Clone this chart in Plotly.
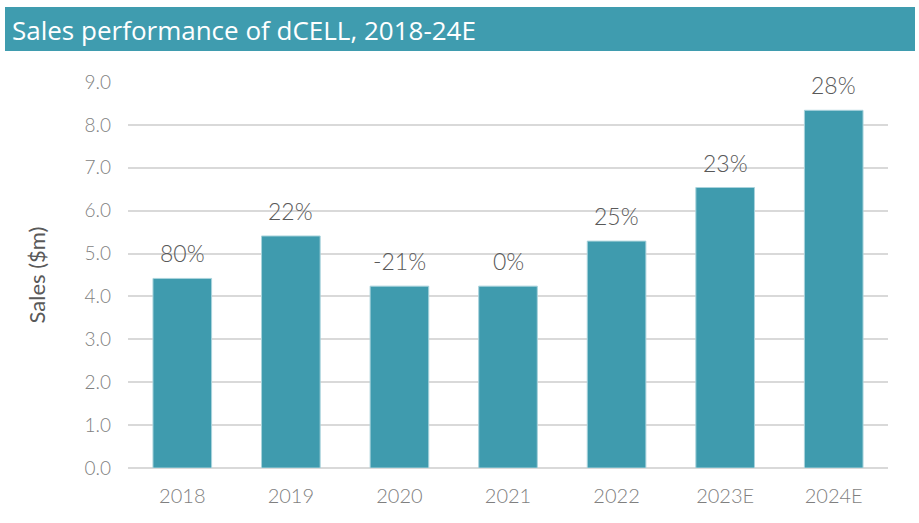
import plotly.graph_objects as go

years = ["2018", "2019", "2020", "2021", "2022", "2023E", "2024E"]
sales = [4.42, 5.41, 4.24, 4.24, 5.29, 6.54, 8.34]
growth = ["80%", "22%", "-21%", "0%", "25%", "23%", "28%"]
y_ticks = [0, 1, 2, 3, 4, 5, 6, 7, 8, 9]
y_tick_labels = [f"{v:.1f}" for v in y_ticks]

TEAL = "#3F9BAE"
W, H = 919, 523
ml, mr, mt, mb = 128, 31, 82, 55
pw, ph = W - ml - mr, H - mt - mb

def px_x(x):
    return (x - ml) / pw

def px_y(y):
    return (H - mb - y) / ph

fig = go.Figure()
fig.add_trace(go.Bar(
    x=years, y=sales,
    marker=dict(color=TEAL, line=dict(color="#a9d3dc", width=1)),
    width=0.54,
    hoverinfo="skip",
))

for i, (v, g) in enumerate(zip(sales, growth)):
    fig.add_annotation(x=i, y=v, text=g, showarrow=False, yanchor="bottom",
                       yshift=9, font=dict(family="Lato", size=23, color="#595959", weight=300))

# title bar
fig.add_shape(type="rect", xref="paper", yref="paper",
              x0=px_x(5), x1=px_x(915), y0=px_y(51), y1=px_y(7),
              fillcolor="#3F9CAF", line=dict(width=0), layer="below")
fig.add_annotation(xref="paper", yref="paper", x=px_x(10), y=px_y(30),
                   xanchor="left", yanchor="middle", showarrow=False,
                   text="Sales performance of dCELL, 2018-24E",
                   font=dict(family="Open Sans", size=26, color="white"))

fig.update_layout(
    width=W, height=H,
    margin=dict(l=ml, r=mr, t=mt, b=mb, pad=0),
    plot_bgcolor="white", paper_bgcolor="white",
    showlegend=False,
    xaxis=dict(type="category", range=[-0.5, 6.5], showgrid=False,
               showline=False, ticks="", ticklabelstandoff=14,
               tickfont=dict(family="Lato", size=20, color="#7f7f7f", weight=300)),
    yaxis=dict(range=[0, 9], tickvals=y_ticks, ticktext=y_tick_labels,
               showgrid=True, gridcolor="#d9d9d9", gridwidth=1.5,
               zeroline=True, zerolinecolor="#d9d9d9", zerolinewidth=1.5,
               showline=False, ticks="", ticklabelstandoff=16,
               tickfont=dict(family="Lato", size=19, color="#7f7f7f", weight=300),
               title=dict(text="Sales ($m)", standoff=32,
                          font=dict(family="Lato", size=22, color="#595959"))),
)

fig.write_html("out.html")
